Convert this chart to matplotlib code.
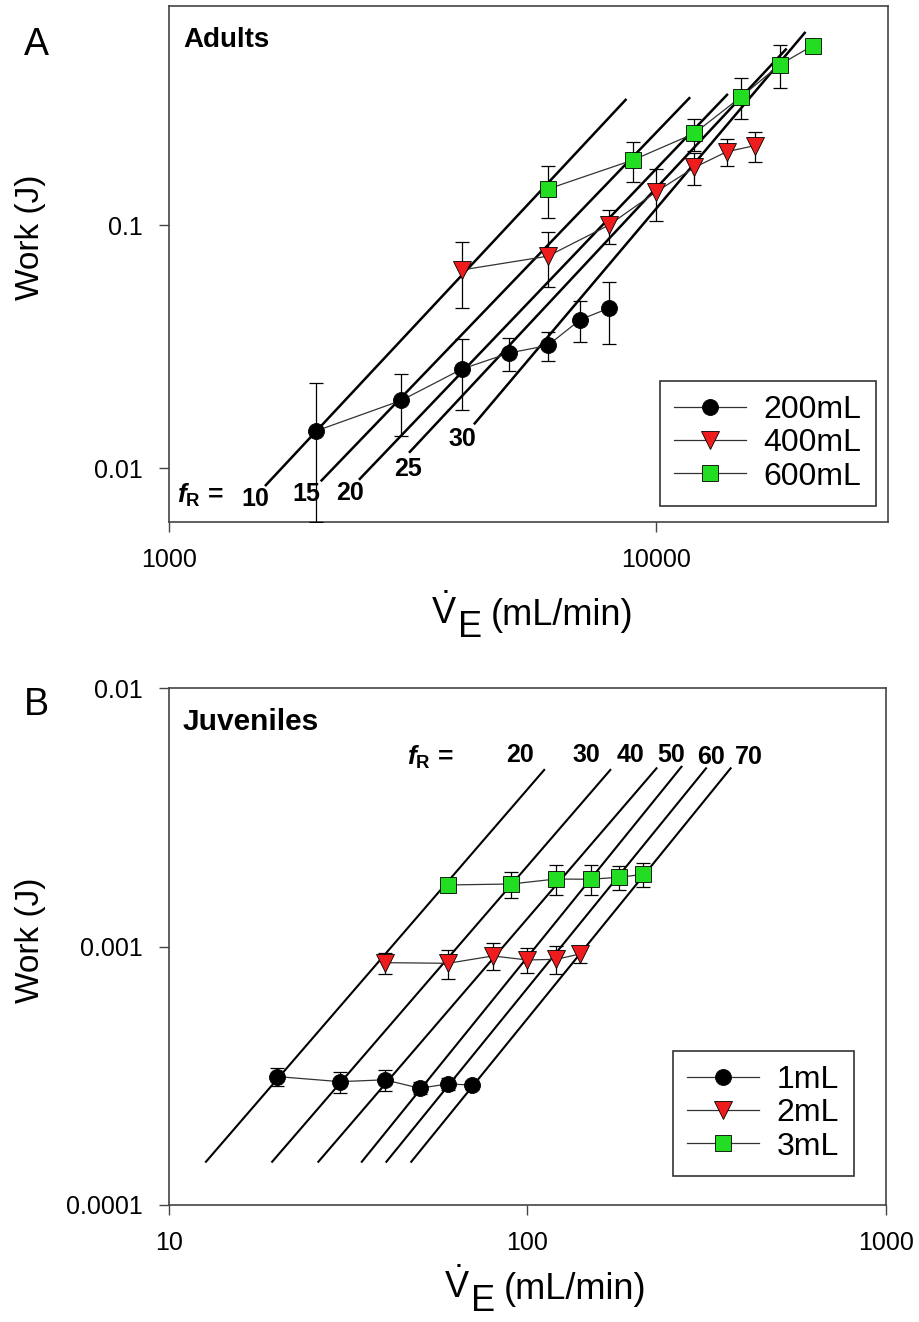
import numpy as np
import matplotlib
matplotlib.use("Agg")
import matplotlib.pyplot as plt
from matplotlib.ticker import FixedLocator, FixedFormatter, NullLocator

# ===================== fonts =====================
plt.rcParams["font.family"] = ["Liberation Sans", "DejaVu Sans"]
plt.rcParams["mathtext.fontset"] = "custom"
plt.rcParams["mathtext.rm"] = "Liberation Sans"
plt.rcParams["mathtext.it"] = "Liberation Sans:italic:bold"
plt.rcParams["mathtext.bf"] = "Liberation Sans:bold"

W_PX, H_PX = 920, 1322

# ===================== panel A data (adults) =====================
a_labels = ["200mL", "400mL", "600mL"]
a_ve_200 = [2000, 3000, 4000, 5000, 6000, 7000, 8000]
a_w_200 = [0.0142, 0.0190, 0.0256, 0.0298, 0.0320, 0.0409, 0.0455]
a_e_200 = [0.0082, 0.0055, 0.0083, 0.0047, 0.0045, 0.0079, 0.013]
a_ve_400 = [4000, 6000, 8000, 10000, 12000, 14000, 16000]
a_w_400 = [0.0655, 0.0746, 0.100, 0.137, 0.173, 0.201, 0.213]
a_e_400 = [0.020, 0.019, 0.016, 0.033, 0.026, 0.026, 0.030]
a_ve_600 = [6000, 9000, 12000, 15000, 18000, 21000]
a_w_600 = [0.141, 0.186, 0.239, 0.339, 0.459, 0.549]
a_e_600 = [0.034, 0.035, 0.036, 0.066, 0.093, 0.0]

# fR isopleths: (VE start, W start, VE end, W end)
a_fr = ["10", "15", "20", "25", "30"]
a_fr_x0 = [1581, 2058, 2466, 3125, 4247]
a_fr_y0 = [0.00851, 0.0089, 0.00903, 0.01167, 0.01528]
a_fr_x1 = [8670, 11720, 14010, 18500, 20230]
a_fr_y1 = [0.3285, 0.334, 0.3446, 0.53, 0.62]
a_fr_lx = [1502, 1918, 2353, 3096, 4015]
a_fr_ly = [0.00745, 0.00782, 0.0079, 0.0099, 0.01316]

# ===================== panel B data (juveniles) =====================
b_labels = ["1mL", "2mL", "3mL"]
b_ve_1 = [20, 30, 40, 50, 60, 70]
b_w_1 = [0.000314, 0.000300, 0.000305, 0.000283, 0.000294, 0.000291]
b_e_1 = [0.000026, 0.000028, 0.000028, 0.000015, 0.000015, 0.000010]
b_ve_2 = [40, 60, 80, 100, 120, 140]
b_w_2 = [0.000866, 0.000861, 0.000919, 0.000887, 0.000892, 0.000935]
b_e_2 = [0.00008, 0.00011, 0.00011, 0.00010, 0.00011, 0.00007]
b_ve_3 = [60, 90, 120, 150, 180, 210]
b_w_3 = [0.00173, 0.001745, 0.001824, 0.00182, 0.001853, 0.0019]
b_e_3 = [0.0, 0.0002, 0.00024, 0.00024, 0.0002, 0.0002]

b_fr = ["20", "30", "40", "50", "60", "70"]
b_fr_x0 = [12.68, 19.4, 26.1, 34.5, 40.4, 47.4]
b_fr_y0 = [0.000147, 0.000147, 0.000147, 0.000147, 0.000147, 0.000147]
b_fr_x1 = [111.3, 170.2, 229, 268.9, 314.8, 368.6]
b_fr_y1 = [0.00482, 0.00482, 0.00489, 0.00496, 0.00489, 0.00489]
b_fr_lx = [95.3, 145.5, 194.4, 251, 325, 415]
b_fr_ly = [0.0055, 0.0055, 0.0055, 0.0055, 0.0054, 0.0054]

# ===================== styles =====================
MARKERS = ["o", "v", "s"]
COLORS = ["black", "#ee1c1c", "#22dd22"]
MSIZE = [11.5, 12.5, 11.5]
SPINE = "#444444"


def fx(px):
    return px / W_PX


def fy(py):
    return 1 - py / H_PX


def draw_series(ax, ve, w, err, label, i):
    ax.errorbar(ve, w, yerr=err, fmt="none", ecolor="black", elinewidth=0.9,
                capsize=5, capthick=0.9, zorder=3)
    ax.plot(ve, w, color="#333333", lw=0.9, marker=MARKERS[i],
            markersize=MSIZE[i], markerfacecolor=COLORS[i],
            markeredgecolor="black", markeredgewidth=0.6, label=label, zorder=4)


def style_axes(ax, xt, xtl, yt, ytl):
    ax.set_xscale("log")
    ax.set_yscale("log")
    ax.xaxis.set_major_locator(FixedLocator(xt))
    ax.xaxis.set_major_formatter(FixedFormatter(xtl))
    ax.yaxis.set_major_locator(FixedLocator(yt))
    ax.yaxis.set_major_formatter(FixedFormatter(ytl))
    ax.xaxis.set_minor_locator(NullLocator())
    ax.yaxis.set_minor_locator(NullLocator())
    ax.tick_params(direction="out", length=7, width=1.0, color=SPINE,
                   labelsize=18, pad=12, top=False, right=False)
    for s in ax.spines.values():
        s.set_color(SPINE)
        s.set_linewidth(1.2)
    ax.set_ylabel("Work (J)", fontsize=24)
    ax.yaxis.label.set_va("center")


def ve_label(x0, base):
    # V-dot with a full-size, lowered E, then the unit
    fig.text(fx(x0), fy(base), r"$\dot{\mathrm{V}}$", fontsize=26,
             ha="left", va="baseline")
    fig.text(fx(x0 + 27), fy(base + 13), "E", fontsize=26,
             ha="left", va="baseline")
    fig.text(fx(x0 + 60), fy(base + 1), "(mL/min)", fontsize=26,
             ha="left", va="baseline")


def legend(ax, anchor):
    leg = ax.legend(loc="lower right", bbox_to_anchor=anchor, fontsize=23,
                    frameon=True, fancybox=False, edgecolor="black",
                    handlelength=2.25, labelspacing=0.1, borderpad=0.45,
                    handletextpad=0.55, borderaxespad=0)
    leg.get_frame().set_linewidth(1.2)


fig = plt.figure(figsize=(W_PX / 100, H_PX / 100), dpi=100)

# ===================== panel A =====================
ax1 = fig.add_axes([fx(169), fy(522), 719 / W_PX, 516 / H_PX])
for k in range(len(a_fr)):
    ax1.plot([a_fr_x0[k], a_fr_x1[k]], [a_fr_y0[k], a_fr_y1[k]],
             color="black", lw=1.8, zorder=2)
    ax1.text(a_fr_lx[k], a_fr_ly[k], a_fr[k], fontsize=18, fontweight="bold",
             ha="center", va="center")
ax1.text(1158, 0.0077, r"$\mathit{f}_{\mathbf{R}}$ =", fontsize=19,
         fontweight="bold", ha="center", va="center")
draw_series(ax1, a_ve_200, a_w_200, a_e_200, a_labels[0], 0)
draw_series(ax1, a_ve_400, a_w_400, a_e_400, a_labels[1], 1)
draw_series(ax1, a_ve_600, a_w_600, a_e_600, a_labels[2], 2)
ax1.set_xlim(1000, 30000)
ax1.set_ylim(0.006, 0.8)
style_axes(ax1, [1000, 10000], ["1000", "10000"], [0.01, 0.1], ["0.01", "0.1"])
ax1.yaxis.set_label_coords(-0.193, 0.552)
ax1.text(0.0195, 0.934, "Adults", transform=ax1.transAxes, fontsize=20,
         fontweight="bold", ha="left", va="center")
legend(ax1, (0.9833, 0.031))
ve_label(431, 624)

# ===================== panel B =====================
ax2 = fig.add_axes([fx(169), fy(1205), 717 / W_PX, 517 / H_PX])
for k in range(len(b_fr)):
    ax2.plot([b_fr_x0[k], b_fr_x1[k]], [b_fr_y0[k], b_fr_y1[k]],
             color="black", lw=1.5, zorder=2)
    ax2.text(b_fr_lx[k], b_fr_ly[k], b_fr[k], fontsize=18, fontweight="bold",
             ha="center", va="center")
ax2.text(53.5, 0.0054, r"$\mathit{f}_{\mathbf{R}}$ =", fontsize=19,
         fontweight="bold", ha="center", va="center")
draw_series(ax2, b_ve_1, b_w_1, b_e_1, b_labels[0], 0)
draw_series(ax2, b_ve_2, b_w_2, b_e_2, b_labels[1], 1)
draw_series(ax2, b_ve_3, b_w_3, b_e_3, b_labels[2], 2)
ax2.set_xlim(10, 1000)
ax2.set_ylim(0.0001, 0.01)
style_axes(ax2, [10, 100, 1000], ["10", "100", "1000"],
           [0.0001, 0.001, 0.01], ["0.0001", "0.001", "0.01"])
ax2.yaxis.set_label_coords(-0.193, 0.513)
ax2.text(0.0195, 0.934, "Juveniles", transform=ax2.transAxes, fontsize=21.5,
         fontweight="bold", ha="left", va="center")
legend(ax2, (0.955, 0.056))
ve_label(444, 1298)

# ===================== panel letters =====================
fig.text(fx(36), fy(45), "A", fontsize=27, ha="center", va="center")
fig.text(fx(36), fy(705), "B", fontsize=27, ha="center", va="center")

fig.savefig("out.png", dpi=100)
